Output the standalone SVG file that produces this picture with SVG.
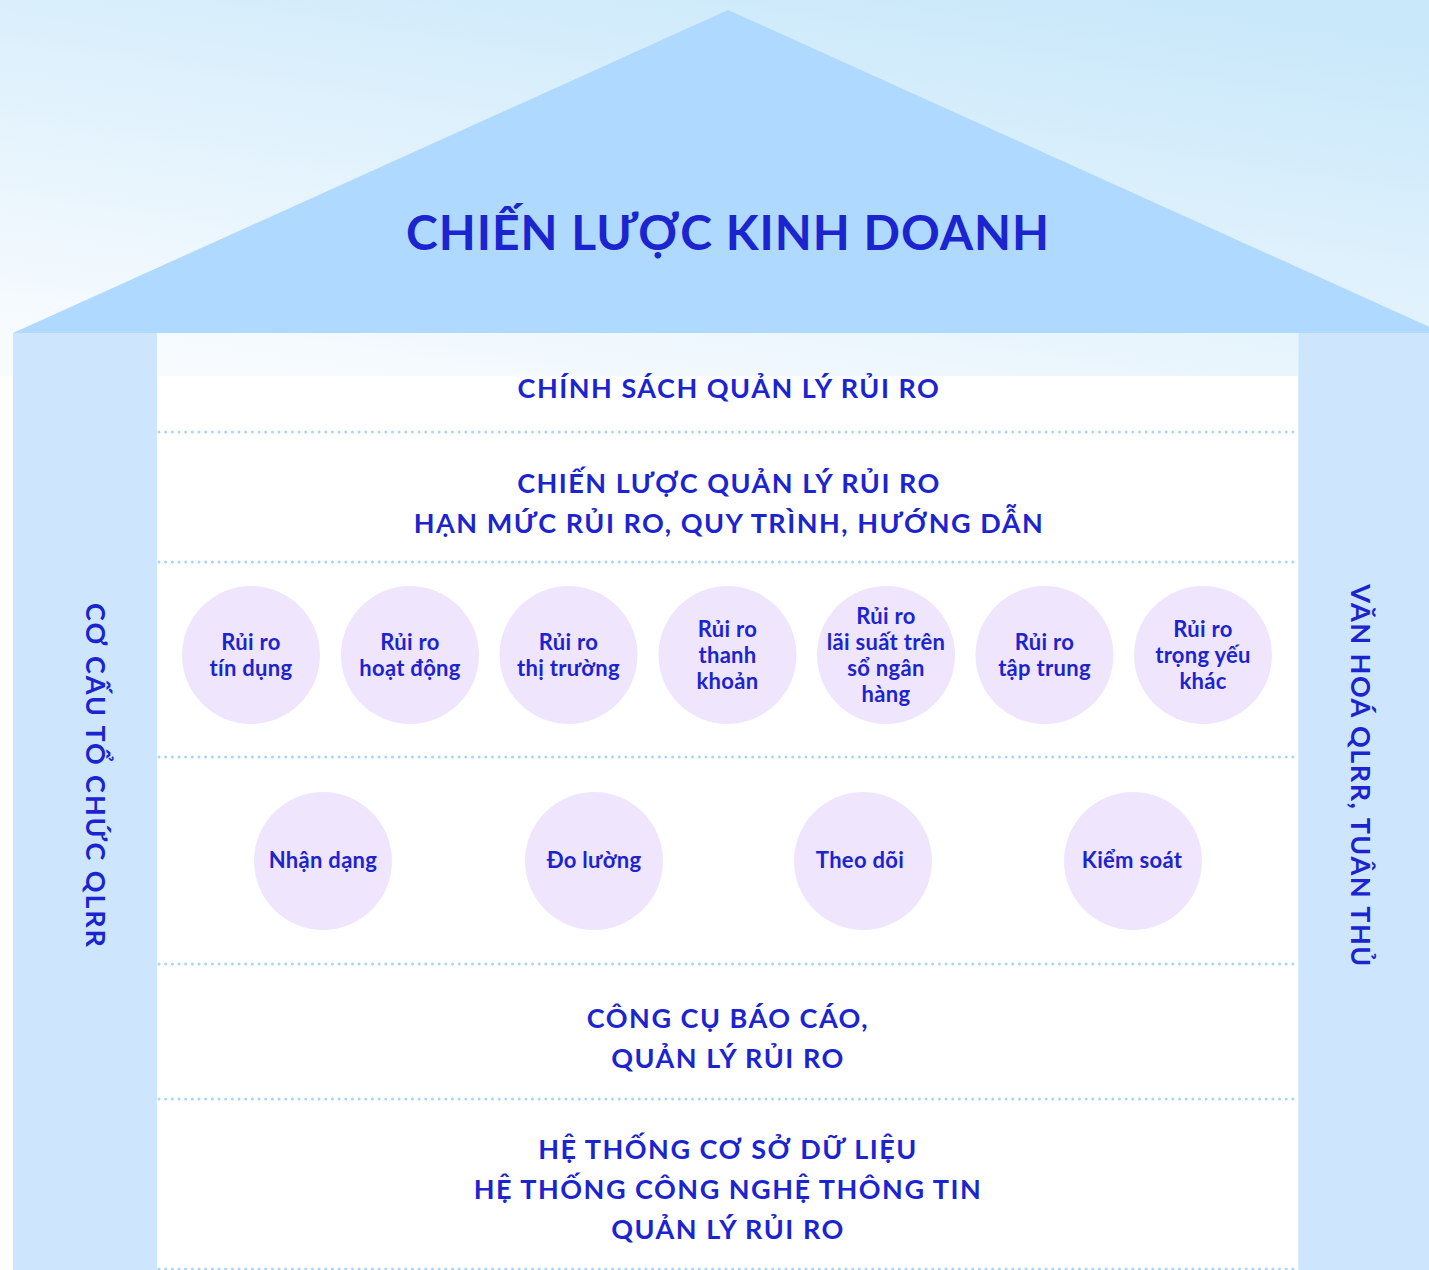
<svg xmlns="http://www.w3.org/2000/svg" width="1429" height="1270" viewBox="0 0 1429 1270">
  <defs>
    <linearGradient id="sky" x1="0.2" y1="1" x2="0.8" y2="0">
      <stop offset="0" stop-color="#f7fbfe"/>
      <stop offset="1" stop-color="#c9e8fa"/>
    </linearGradient>
    <style>
      .t { font-family: Lato, "Liberation Sans", sans-serif; fill: #1b24cf; text-anchor: middle; }
      .title { font-size: 48px; font-weight: 700; letter-spacing: 1px; }
      .sec { font-size: 27px; font-weight: 700; letter-spacing: 1.5px; }
      .side-l { font-size: 27px; font-weight: 700; letter-spacing: 1.9px; }
      .side-r { font-size: 27px; font-weight: 700; letter-spacing: 1.5px; }
      .c { font-size: 22px; font-weight: 700; letter-spacing: 0.3px; }
      .bubble { fill: #efe6fe; }
      .dots { stroke: #a9d5fb; stroke-width: 3; stroke-linecap: round; stroke-dasharray: 0 6.67; fill: none; }
    </style>
  </defs>

  <!-- sky and floor -->
  <rect x="0" y="0" width="1429" height="1270" fill="#ffffff"/>
  <rect x="0" y="0" width="1429" height="376" fill="url(#sky)"/>

  <!-- roof -->
  <g id="roof">
    <polygon points="13,333 728,10 1443,333" fill="#afd9fe"/>
    <text class="t title" x="728" y="250">CHIẾN LƯỢC KINH DOANH</text>
  </g>

  <!-- pillars -->
  <g id="pillar-left">
    <rect x="13" y="333" width="144" height="937" fill="#cde6fd"/>
    <text class="t side-l" transform="translate(95,776) rotate(90)" y="9">CƠ CẤU TỔ CHỨC QLRR</text>
  </g>
  <g id="pillar-right">
    <rect x="1298" y="333" width="131" height="937" fill="#cde6fd"/>
    <line x1="1298.5" y1="333" x2="1298.5" y2="1270" stroke="#dbeefe" stroke-width="1"/>
    <text class="t side-r" transform="translate(1360,776) rotate(90)" y="9">VĂN HOÁ QLRR, TUÂN THỦ</text>
  </g>

  <!-- floor separators -->
  <g id="connectors">
    <line class="dots" x1="159" y1="432" x2="1298" y2="432"/>
    <line class="dots" x1="159" y1="562" x2="1298" y2="562"/>
    <line class="dots" x1="159" y1="757" x2="1298" y2="757"/>
    <line class="dots" x1="159" y1="964" x2="1298" y2="964"/>
    <line class="dots" x1="159" y1="1099" x2="1298" y2="1099"/>
    <line class="dots" x1="159" y1="1269" x2="1298" y2="1269" stroke="#e6e6e6"/>
  </g>

  <!-- layers -->
  <g id="policy">
    <text class="t sec" x="729" y="398">CHÍNH SÁCH QUẢN LÝ RỦI RO</text>
  </g>
  <g id="strategy">
    <text class="t sec" x="729" y="493">CHIẾN LƯỢC QUẢN LÝ RỦI RO</text>
    <text class="t sec" x="729" y="533">HẠN MỨC RỦI RO, QUY TRÌNH, HƯỚNG DẪN</text>
  </g>

  <!-- risk types -->
  <g id="risk-credit">
    <circle class="bubble" cx="251" cy="655" r="69"/>
    <text class="t c" x="251" y="650">Rủi ro</text>
    <text class="t c" x="251" y="676">tín dụng</text>
  </g>
  <g id="risk-operational">
    <circle class="bubble" cx="410" cy="655" r="69"/>
    <text class="t c" x="410" y="650">Rủi ro</text>
    <text class="t c" x="410" y="676">hoạt động</text>
  </g>
  <g id="risk-market">
    <circle class="bubble" cx="568.5" cy="655" r="69"/>
    <text class="t c" x="568.5" y="650">Rủi ro</text>
    <text class="t c" x="568.5" y="676">thị trường</text>
  </g>
  <g id="risk-liquidity">
    <circle class="bubble" cx="727.5" cy="655" r="69"/>
    <text class="t c" x="727.5" y="637">Rủi ro</text>
    <text class="t c" x="727.5" y="663">thanh</text>
    <text class="t c" x="727.5" y="689">khoản</text>
  </g>
  <g id="risk-irrbb">
    <circle class="bubble" cx="886" cy="655" r="69"/>
    <text class="t c" x="886" y="624">Rủi ro</text>
    <text class="t c" x="886" y="650">lãi suất trên</text>
    <text class="t c" x="886" y="676">sổ ngân</text>
    <text class="t c" x="886" y="702">hàng</text>
  </g>
  <g id="risk-concentration">
    <circle class="bubble" cx="1044.5" cy="655" r="69"/>
    <text class="t c" x="1044.5" y="650">Rủi ro</text>
    <text class="t c" x="1044.5" y="676">tập trung</text>
  </g>
  <g id="risk-other">
    <circle class="bubble" cx="1203" cy="655" r="69"/>
    <text class="t c" x="1203" y="637">Rủi ro</text>
    <text class="t c" x="1203" y="663">trọng yếu</text>
    <text class="t c" x="1203" y="689">khác</text>
  </g>

  <!-- process steps -->
  <g id="step-identify">
    <circle class="bubble" cx="323" cy="861" r="69"/>
    <text class="t c" x="323" y="868">Nhận dạng</text>
  </g>
  <g id="step-measure">
    <circle class="bubble" cx="594" cy="861" r="69"/>
    <text class="t c" x="594" y="868">Đo lường</text>
  </g>
  <g id="step-monitor">
    <circle class="bubble" cx="863" cy="861" r="69"/>
    <text class="t c" x="860" y="868">Theo dõi</text>
  </g>
  <g id="step-control">
    <circle class="bubble" cx="1133" cy="861" r="69"/>
    <text class="t c" x="1132" y="868">Kiểm soát</text>
  </g>

  <g id="reporting">
    <text class="t sec" x="728" y="1028">CÔNG CỤ BÁO CÁO,</text>
    <text class="t sec" x="728" y="1068">QUẢN LÝ RỦI RO</text>
  </g>
  <g id="systems">
    <text class="t sec" x="728" y="1159">HỆ THỐNG CƠ SỞ DỮ LIỆU</text>
    <text class="t sec" x="728" y="1199">HỆ THỐNG CÔNG NGHỆ THÔNG TIN</text>
    <text class="t sec" x="728" y="1239">QUẢN LÝ RỦI RO</text>
  </g>
</svg>
